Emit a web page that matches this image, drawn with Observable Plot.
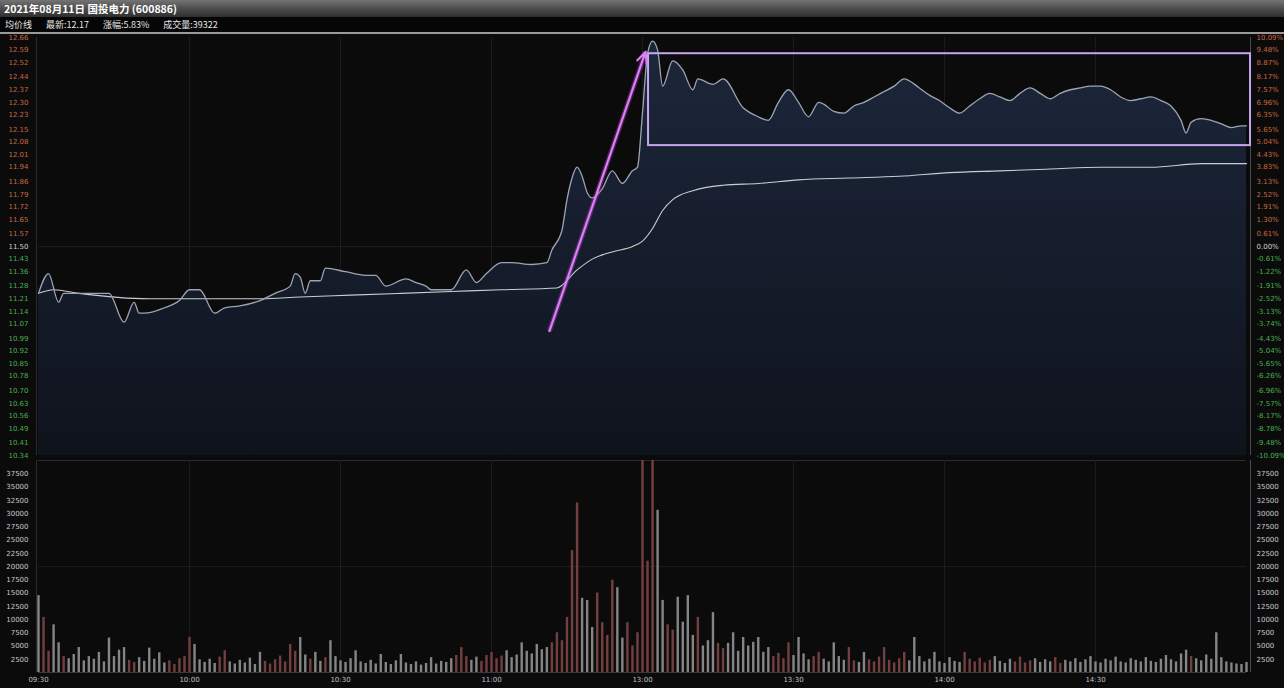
<!DOCTYPE html>
<html><head><meta charset="utf-8">
<script src="https://cdn.jsdelivr.net/npm/d3@7"></script>
<script src="https://cdn.jsdelivr.net/npm/@observablehq/plot@0.6"></script>
<style>
html,body{margin:0;padding:0;background:#0b0b0c;width:1284px;height:688px;overflow:hidden;font-family:"Noto Sans CJK SC","DejaVu Sans",sans-serif}
#title{height:17px;background:linear-gradient(#747474,#4a4a4a 55%,#2e2e2e);color:#fff;font-size:10.5px;font-weight:bold;line-height:17px;padding-left:4px;white-space:nowrap}
#info{height:15px;background:#060606;color:#e6e6e6;font-size:9px;line-height:15px;padding-left:5px;border-bottom:2px solid #9a9a9a;white-space:nowrap;word-spacing:2px}
#info span{margin-right:14px}
svg{display:block}
</style></head>
<body>
<div id="title">2021年08月11日 国投电力 (600886)</div>
<div id="info"><span>均价线</span><span>最新:12.17</span><span>涨幅:5.83%</span><span>成交量:39322</span></div>
<div id="price"></div>
<div id="vol"></div>
<script>
// ---------- data ----------
const prevClose = 11.50;
const timeLabels = ["09:30","10:00","10:30","11:00","13:00","13:30","14:00","14:30"];
const priceTicks = [12.66,12.59,12.52,12.44,12.37,12.30,12.23,12.15,12.08,12.01,11.94,11.86,11.79,11.72,11.65,11.57,11.50,11.43,11.36,11.28,11.21,11.14,11.07,10.99,10.92,10.85,10.78,10.70,10.63,10.56,10.49,10.41,10.34];
const volTicks = [2500,5000,7500,10000,12500,15000,17500,20000,22500,25000,27500,30000,32500,35000,37500];

// minutes since open (0..240) and last price
const priceMin = [0,2,4,5,8,14,17,19,20,21,25,28,30,32,35,37,40,44,47,50,51,52,53,54,56,57,61,65,67,69,73,75,77,78,82,85,87,89,92,94,98,101,102,104,105,106,107,108,109,110,112,114,116,118,119,120,121,122,123,124,126,128,130,131,134,136,140,143,145,147,149,151,153,155,156,158,160,162,164,166,168,170,172,173,175,177,179,181,183,185,187,189,191,193,195,197,199,201,203,205,207,209,211,213,215,217,219,221,223,225,227,228,229,231,233,235,237,239,240];
const priceVal = [11.24,11.35,11.19,11.24,11.24,11.24,11.08,11.19,11.13,11.13,11.16,11.20,11.26,11.26,11.13,11.16,11.17,11.20,11.24,11.28,11.35,11.33,11.24,11.31,11.31,11.38,11.36,11.34,11.34,11.28,11.32,11.30,11.28,11.26,11.26,11.37,11.30,11.35,11.41,11.41,11.40,11.41,11.48,11.59,11.76,11.88,11.94,11.89,11.80,11.77,11.82,11.92,11.85,11.92,11.94,12.24,12.57,12.64,12.59,12.39,12.53,12.48,12.37,12.43,12.40,12.43,12.27,12.22,12.20,12.30,12.37,12.30,12.22,12.30,12.29,12.25,12.24,12.28,12.30,12.33,12.36,12.39,12.43,12.42,12.38,12.34,12.31,12.27,12.24,12.28,12.32,12.35,12.33,12.31,12.35,12.38,12.35,12.32,12.35,12.37,12.38,12.39,12.39,12.37,12.33,12.31,12.32,12.33,12.31,12.28,12.20,12.13,12.19,12.21,12.20,12.18,12.16,12.17,12.17];

// average price line
const avgMin = [0,3,8,22,32,44,52,62,72,82,92,103,107,110,114,118,120,122,124,126,130,136,143,151,161,171,181,191,201,211,221,231,240];
const avgVal = [11.24,11.26,11.24,11.21,11.21,11.21,11.22,11.23,11.24,11.25,11.26,11.27,11.37,11.43,11.47,11.50,11.53,11.60,11.70,11.76,11.81,11.84,11.85,11.87,11.88,11.89,11.91,11.92,11.93,11.94,11.94,11.96,11.96];

// volume per minute (手), minutes 0..240
const volume = [14500,10400,4000,9000,5600,3000,2600,3400,4700,2200,3000,2500,3800,2000,6500,3000,4200,4700,2300,1900,
2800,2100,4600,2500,3700,1800,2200,1500,2600,3000,6600,5300,2400,1900,2500,1700,2900,4100,2000,1600,
2300,1800,2700,1500,3800,2100,1600,2400,3100,2000,5300,4000,6600,3300,2500,3800,2100,2800,6000,3000,
2200,1900,2600,4100,2000,1700,2300,1600,3400,1900,1500,2200,3400,1800,1500,2000,1400,1700,2800,1600,
2100,1900,2600,3200,4700,3000,2300,2900,2100,3200,3800,2600,3100,4100,2800,3300,5600,4000,3500,5300,
4300,4700,5600,7500,6000,10400,23000,32000,14000,13600,8500,15000,9400,7000,17400,16000,6500,9400,5000,7500,
40000,21000,40000,30600,13600,9000,8000,14200,9500,14500,7000,10400,5000,6000,11300,5500,4500,5500,7500,4000,
6600,5000,5700,6600,3800,4700,3000,3600,2600,5600,3200,6600,3500,2400,3000,3800,2500,2000,5600,3000,
2300,4700,2200,1900,3800,2400,2000,2900,4700,2300,1800,2600,3800,2200,6600,3000,2000,2500,3800,2000,
1700,2800,2100,1900,3800,2500,2000,2700,1800,2300,3000,2100,1700,2500,2000,2900,1800,2200,2600,1900,
2400,2000,2800,1700,2300,2000,2600,1900,2400,3000,2000,1800,2500,2200,2900,2000,1800,2600,2300,2000,
2800,2100,1900,2500,3200,2400,2000,3500,4200,3000,2600,2200,3300,2500,7500,2800,2000,1800,1600,1500,1900];

// annotations (in data units)
const trendMin = [101.5, 120.6];
const trendPrice = [11.03, 12.58];
const boxMin = [121.2, 240.8];
const boxPrice = [12.06, 12.57];

// ---------- derived ----------
const toMinute = s => { const [h, mm] = s.split(":").map(Number); const t = h*60+mm; return t < 720 ? t - 570 : t - 780 + 120; };
const tickMin = timeLabels.map(toMinute);
const labelOf = new Map(tickMin.map((m,i)=>[m, timeLabels[i]]));
const priceData = priceMin.map((m,i)=>({m, p: priceVal[i]}));
const avgData = avgMin.map((m,i)=>({m, p: avgVal[i]}));
const interp = d3.scaleLinear().domain(priceMin).range(priceVal);
const volData = volume.map((v,m)=>({m, v, up: m === 0 ? interp(0) >= prevClose : interp(m) - interp(m-1) > 0.012}));
const fmtPct = d => ((d/prevClose - 1)*100).toFixed(2) + "%";
const upT = priceTicks.filter(d=>d>prevClose), dnT = priceTicks.filter(d=>d<prevClose), midT = [prevClose];

const ns = "http://www.w3.org/2000/svg";
function gradDefs(){
  const defs = document.createElementNS(ns, "defs");
  defs.innerHTML = `<linearGradient id="pgrad" x1="0" y1="0" x2="0" y2="1">
    <stop offset="0" stop-color="#1d273a"/><stop offset="0.45" stop-color="#161e2e"/><stop offset="1" stop-color="#0f131c"/></linearGradient>`;
  return defs;
}
const axisCommon = {tickSize:0, label:null, fontSize:7};
const W = 1284, ML = 38, MR = 38;

const pricePlot = Plot.plot({
  width: W, height: 424, marginLeft: ML, marginRight: MR, marginTop: 3, marginBottom: 3,
  x: {domain: [0,240], axis: null},
  y: {domain: [10.34, 12.66]},
  style: {background: "transparent", fontFamily: "DejaVu Sans", overflow: "visible"},
  marks: [
    gradDefs,
    Plot.ruleX(tickMin.slice(1), {stroke: "#1b1b20"}),
    Plot.ruleX([0], {stroke: "#2a2a2e", dx: -2}),
    Plot.ruleX([240], {stroke: "#4a4a4e", dx: 4}),
    Plot.areaY(priceData, {x: "m", y1: 10.34, y2: "p", fill: "url(#pgrad)", curve: "monotone-x"}),
    Plot.ruleY([prevClose], {stroke: "#211a1a"}),
    Plot.line(avgData, {x: "m", y: "p", stroke: "#c9cdd2", strokeWidth: 1.1, curve: "monotone-x"}),
    Plot.line(priceData, {x: "m", y: "p", stroke: "#9ba4b0", strokeWidth: 1.3, curve: "monotone-x"}),
    Plot.rect([0], {x1: boxMin[0], x2: boxMin[1], y1: boxPrice[0], y2: boxPrice[1], fill: "none", stroke: "#c6a6ec", strokeWidth: 2}),
    Plot.link([0], {x1: trendMin[0], y1: trendPrice[0], x2: trendMin[1], y2: trendPrice[1], stroke: "#b848d8", strokeWidth: 5, strokeOpacity: 0.35}),
    Plot.arrow([0], {x1: trendMin[0], y1: trendPrice[0], x2: trendMin[1], y2: trendPrice[1], stroke: "#e07cf8", strokeWidth: 2.2, headLength: 8, headAngle: 50}),
    Plot.axisY(upT, {...axisCommon, anchor: "left", tickPadding: 10, fill: "#c8683e", tickFormat: d=>d.toFixed(2)}),
    Plot.axisY(midT, {...axisCommon, anchor: "left", tickPadding: 10, fill: "#d0d0d0", tickFormat: d=>d.toFixed(2)}),
    Plot.axisY(dnT, {...axisCommon, anchor: "left", tickPadding: 10, fill: "#48b04e", tickFormat: d=>d.toFixed(2)}),
    Plot.axisY(upT, {...axisCommon, anchor: "right", tickPadding: 10, fill: "#c8683e", tickFormat: fmtPct}),
    Plot.axisY(midT, {...axisCommon, anchor: "right", tickPadding: 10, fill: "#d0d0d0", tickFormat: fmtPct}),
    Plot.axisY(dnT, {...axisCommon, anchor: "right", tickPadding: 10, fill: "#48b04e", tickFormat: fmtPct})
  ]
});
document.getElementById("price").append(pricePlot);

const volPlot = Plot.plot({
  width: W, height: 230, marginLeft: ML, marginRight: MR, marginTop: 2, marginBottom: 16,
  x: {domain: [0,240]},
  y: {domain: [0, 40000]},
  style: {background: "transparent", fontFamily: "DejaVu Sans", overflow: "visible"},
  marks: [
    Plot.ruleY([40000], {stroke: "#2c2c30"}),
    Plot.ruleY([20000], {stroke: "#1e1a1c"}),
    Plot.ruleX(tickMin.slice(1), {stroke: "#1b1b20"}),
    Plot.ruleX([0], {stroke: "#2a2a2e", dx: -2}),
    Plot.ruleX([240], {stroke: "#4a4a4e", dx: 4}),
    Plot.ruleX(volData, {x: "m", y1: 0, y2: "v", stroke: d => d.up ? "#74403f" : "#858585", strokeWidth: 2.4}),
    Plot.ruleY([0], {stroke: "#3a3a3e"}),
    Plot.axisY(volTicks, {...axisCommon, anchor: "left", tickPadding: 10, fill: "#c8c8c8", tickFormat: d=>String(d)}),
    Plot.axisY(volTicks, {...axisCommon, anchor: "right", tickPadding: 10, fill: "#c8c8c8", tickFormat: d=>String(d)}),
    Plot.axisX(tickMin, {...axisCommon, anchor: "bottom", tickPadding: 5, fill: "#c0c0c0", tickFormat: d=>labelOf.get(d)})
  ]
});
document.getElementById("vol").append(volPlot);
</script>
</body></html>
